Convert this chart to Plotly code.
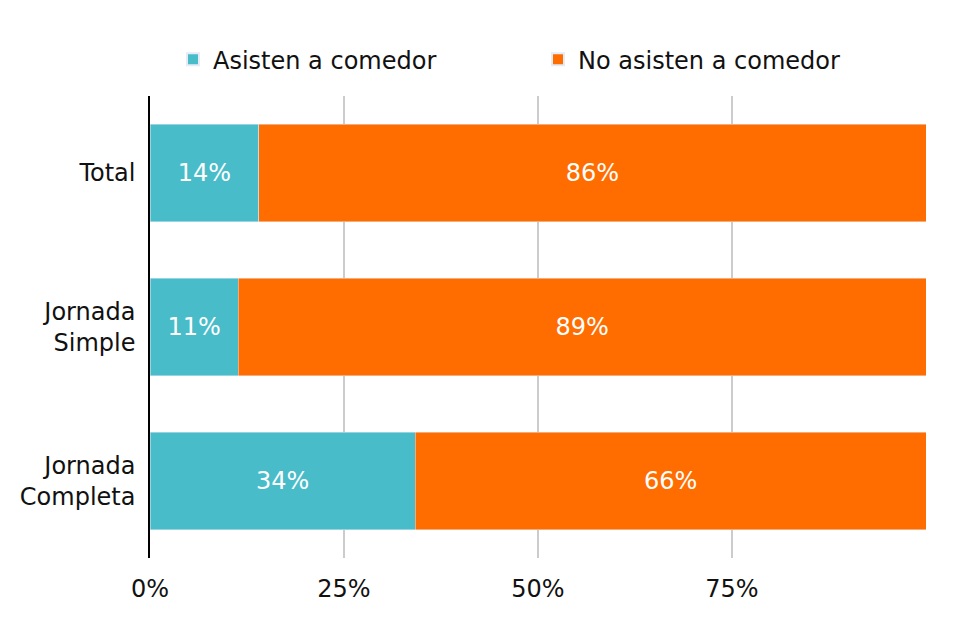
import plotly.graph_objects as go

categories = ["Total", "Jornada<br>Simple", "Jornada<br>Completa"]
asisten = [14, 11.4, 34.2]
no_asisten = [86, 88.6, 65.8]
asisten_labels = ["14%", "11%", "34%"]
no_asisten_labels = ["86%", "89%", "66%"]
tick_vals = [0, 25, 50, 75, 100]
tick_text = ["0%", "25%", "50%", "75%", ""]

fig = go.Figure()
fig.add_bar(y=categories, x=asisten, orientation="h", name="Asisten a comedor",
            marker_color="#48BCC8", text=asisten_labels, textposition="inside",
            insidetextanchor="middle", textfont=dict(color="white", size=24))
fig.add_bar(y=categories, x=no_asisten, orientation="h", name="No asisten a comedor",
            marker_color="#FF6D00", text=no_asisten_labels, textposition="inside",
            insidetextanchor="middle", textfont=dict(color="white", size=24))
fig.update_layout(
    barmode="stack", bargap=0.37, width=966, height=628,
    paper_bgcolor="white", plot_bgcolor="white",
    font=dict(family="DejaVu Sans", size=24, color="#111"),
    margin=dict(l=142, r=48, t=88, b=78, autoexpand=False),
    legend=dict(orientation="h", x=0.5, xanchor="center", y=1.03, yanchor="bottom",
                font=dict(size=24), traceorder="normal", itemsizing="constant",
                entrywidth=320),
    xaxis=dict(range=[0, 100], tickvals=tick_vals, ticktext=tick_text, automargin=False,
               showgrid=True, gridcolor="#CCCCCC", gridwidth=2, zeroline=False,
               ticks="", ticklabelstandoff=14, tickfont=dict(size=24)),
    yaxis=dict(autorange="reversed", showline=True, linecolor="black", linewidth=1.5,
               automargin=False, ticks="", ticklabelstandoff=8, tickfont=dict(size=24)),
    uniformtext=dict(mode="show", minsize=10),
)
fig.write_html("out.html")
